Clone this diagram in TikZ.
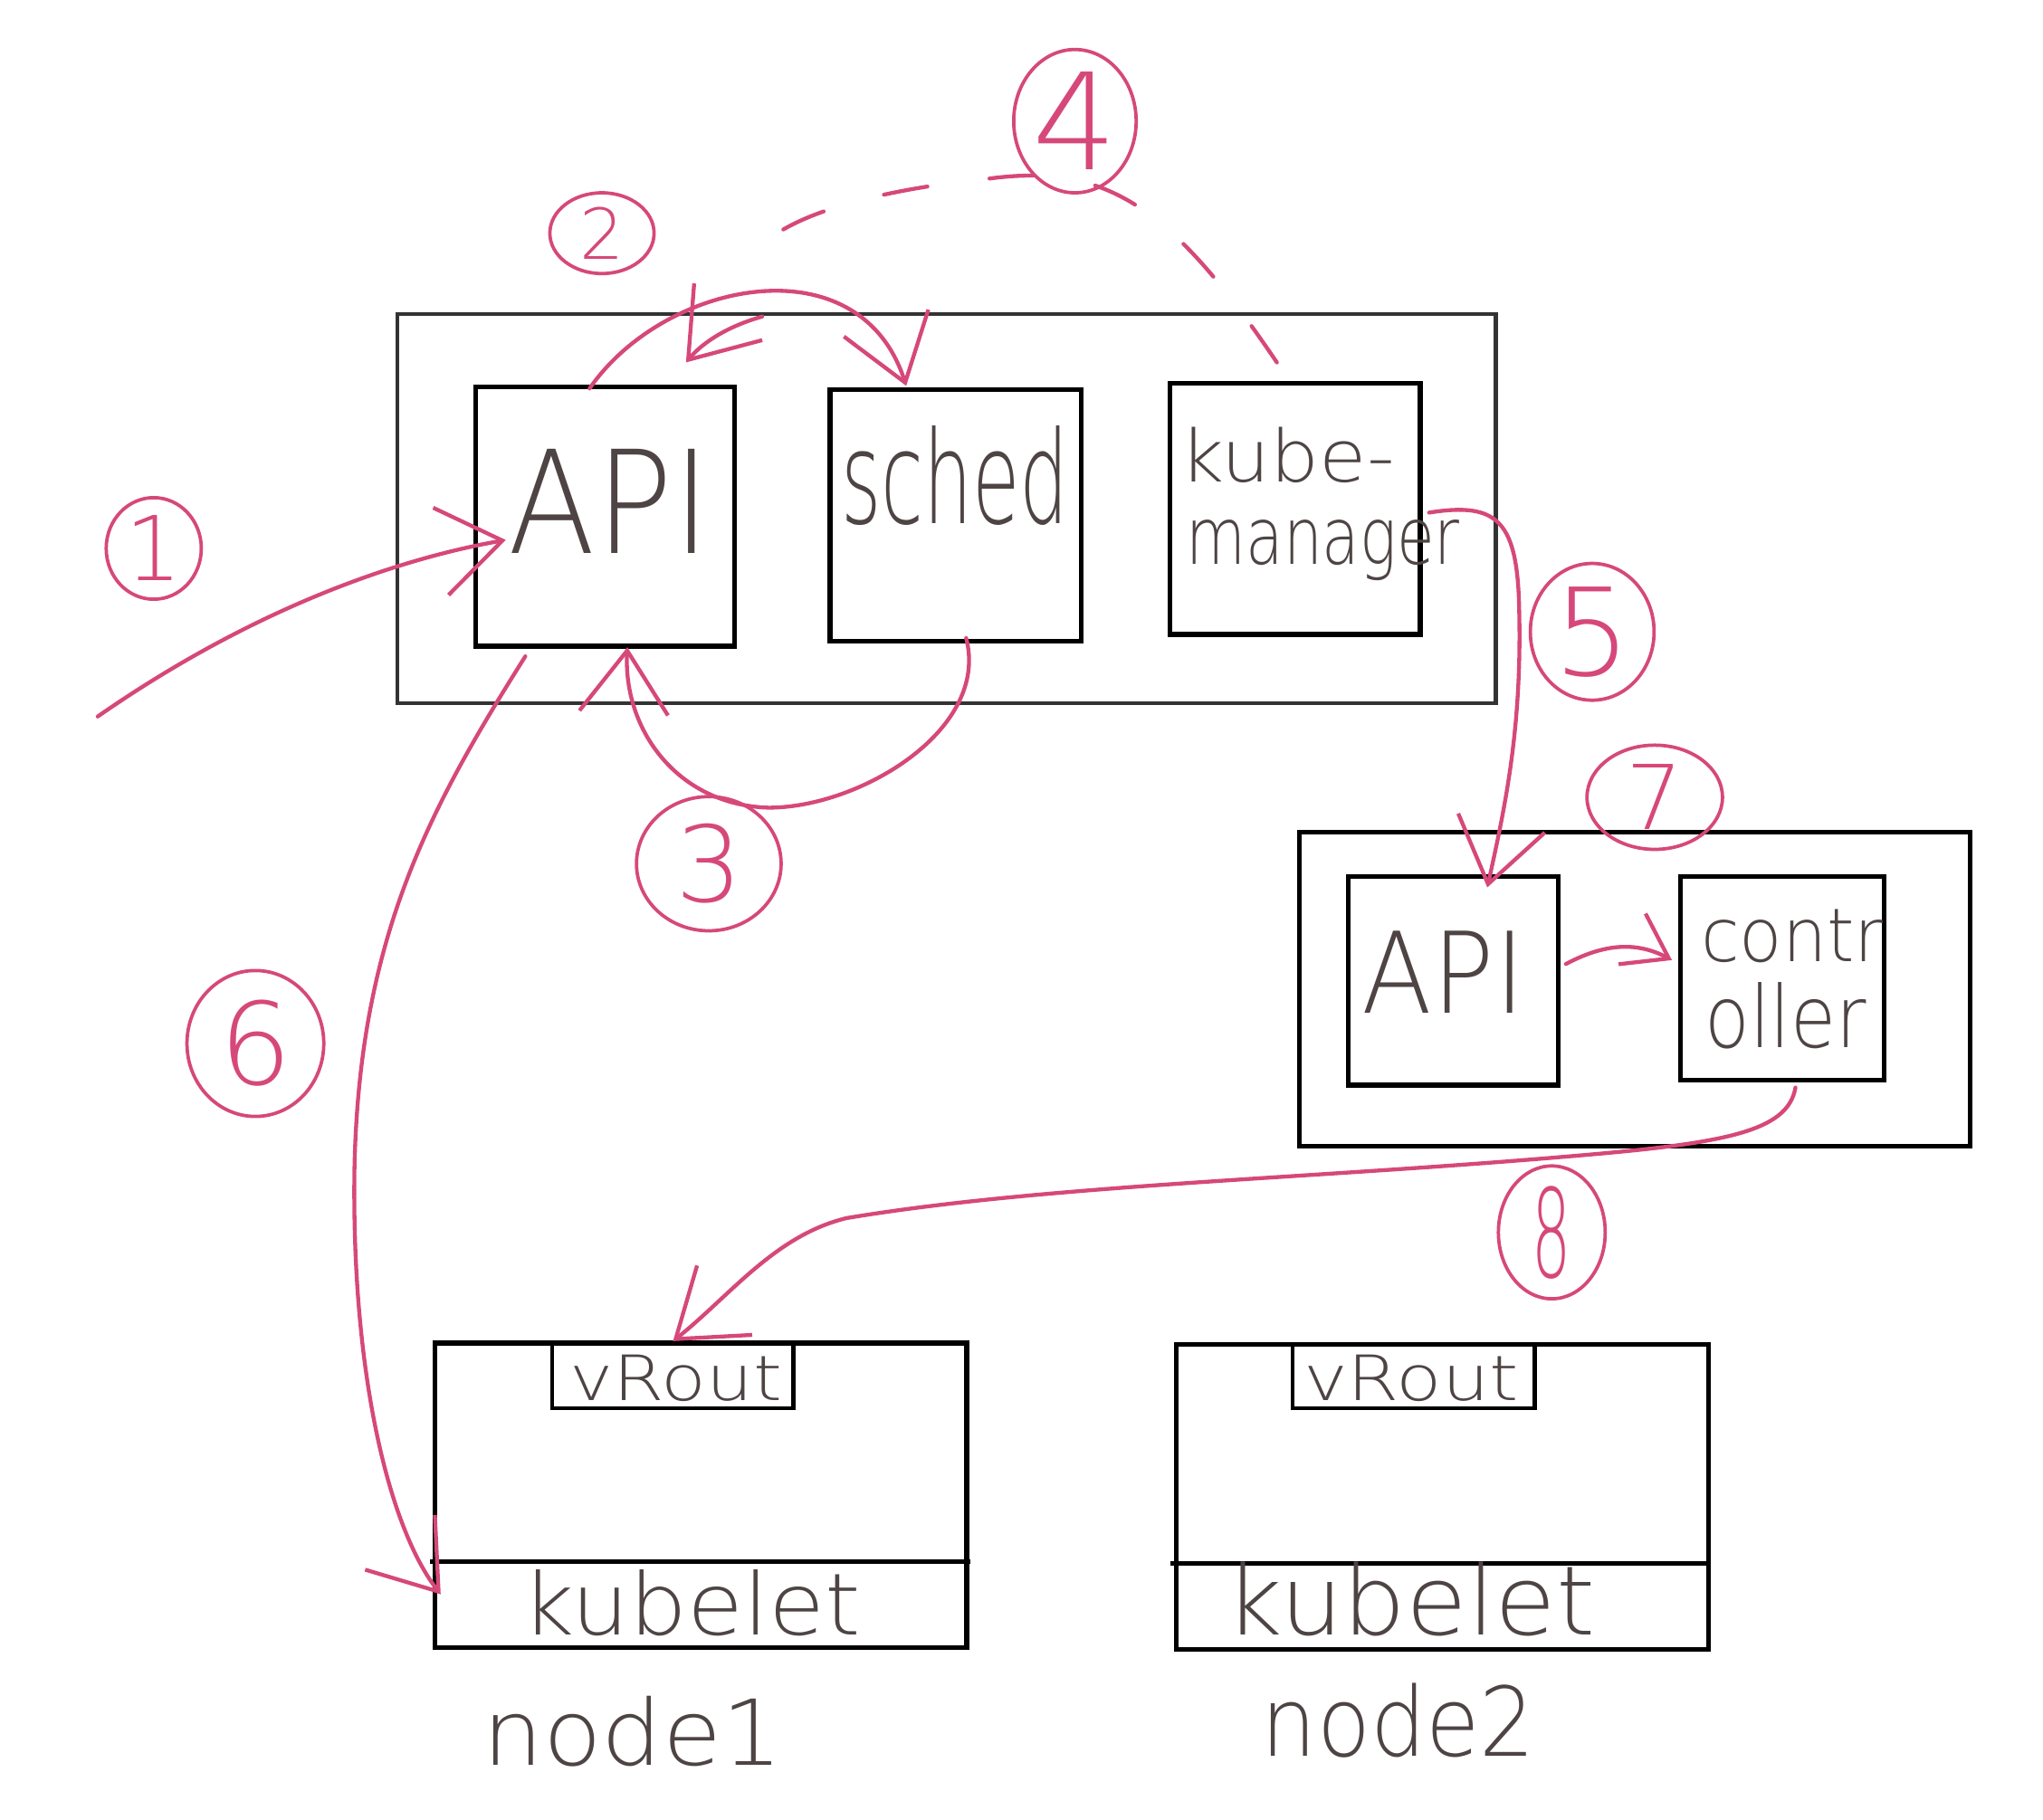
\documentclass[tikz,border=0pt]{standalone}
\usepackage{fontspec}
\usetikzlibrary{arrows.meta,shapes.geometric,calc,fit}
% a thin face for the handwritten labels, with fallbacks
\IfFontExistsTF{DejaVu Sans ExtraLight}{\newfontfamily\handfont{DejaVu Sans ExtraLight}}{%
  \IfFontExistsTF{Lato Light}{\newfontfamily\handfont{Lato Light}}{%
    \newfontfamily\handfont{DejaVu Sans}}}
\definecolor{ink}{RGB}{78,68,68}
\definecolor{pen}{RGB}{214,72,122}
% text stretched to a given width and height (pt, above the baseline)
\newcommand\fitt[3]{\resizebox{#1pt}{#2pt}{\handfont\fontsize{36}{36}\selectfont #3}}
\newcommand\fith[2]{\resizebox{!}{#1pt}{\handfont\fontsize{36}{36}\selectfont #2}}

\begin{document}
\begin{tikzpicture}[x=0.5pt,y=-0.5pt,
  box/.style={draw=black, line width=1.8pt, inner sep=0pt},
  plane/.style={draw=black!80, line width=1.5pt, inner sep=0pt},
  boxline/.style={draw=black, line width=1.8pt},
  txt/.style={text=ink, inner sep=0pt, anchor=base west},
  pen/.style={draw=pen, line width=1.5pt, line cap=round, line join=round},
  arr/.style={-{Straight Barb[length=24pt,width=34pt]}},
  arrsmall/.style={-{Straight Barb[length=16pt,width=22pt]}},
  num/.style={ellipse, draw=pen, line width=1.3pt, text=pen, inner sep=0pt},
]
\useasboundingbox (0,0) rectangle (1568,1397);

% control plane
\node[plane, fit={(305,241) (1148,540)}] (cp) {};
\node[box, fit={(365,297) (564,496)}] (api) {};
\node[box, fit={(637,299) (830,492)}] (sched) {};
\node[box, fit={(898,294) (1090,487)}] (kube) {};
\node[txt] (apit) at (390,425) {\fitt{77.5}{40}{API}};
\node[txt] (schedt) at (645,402) {\fitt{87.5}{37.5}{sched}};
\node[txt] (kubet) at (905,370) {\fitt{82.5}{21}{kube-}};
\node[txt] (mgrt) at (910,433) {\fitt{105}{17}{manager}};

% second cluster
\node[box, fit={(997,639) (1512,880)}] (cl2) {};
\node[box, fit={(1035,673) (1196,833)}] (api2) {};
\node[box, fit={(1290,673) (1446,829)}] (ctrl) {};
\node[txt] (api2t) at (1045,778) {\fitt{62.5}{31.5}{API}};
\node[txt] (ct1) at (1305,738) {\fitt{70}{20}{contr}};
\node[txt] (ct2) at (1308,804) {\fitt{62}{25}{oller}};

% worker nodes
\node[box, fit={(334,1031) (742,1265)}] (nd1) {};
\node[box, line width=1.5pt, fit={(424,1031) (609,1081)}] (vr1) {};
\coordinate (d1a) at (330,1199);
\coordinate (d1b) at (745,1199);
\draw[boxline] (d1a) -- (d1b);
\node[box, fit={(903,1032) (1311,1266)}] (nd2) {};
\node[box, line width=1.5pt, fit={(992,1032) (1178,1081)}] (vr2) {};
\coordinate (d2a) at (898,1200);
\coordinate (d2b) at (1313,1200);
\draw[boxline] (d2a) -- (d2b);
\node[txt] (vr1t) at (437,1075) {\fitt{81.5}{17.5}{vRout}};
\node[txt] (vr2t) at (1000,1075) {\fitt{82.5}{17.5}{vRout}};
\node[txt] (kb1t) at (400,1255) {\fitt{130}{25}{kubelet}};
\node[txt] (kb2t) at (940,1255) {\fitt{142}{28}{kubelet}};
\node[txt] (nm1) at (370,1355) {\fitt{115}{26.5}{node1}};
\node[txt] (nm2) at (968,1348) {\fitt{105}{28}{node2}};

% step numbers
\node[num, minimum width=36.5pt, minimum height=39pt] (c1) at (118,421) {\fith{25}{1}};
\node[num, minimum width=40pt, minimum height=31pt] (c2) at (462,179) {\fith{20}{2}};
\node[num, minimum width=55.5pt, minimum height=51.5pt] (c3) at (544,663) {\fith{30}{3}};
\node[num, minimum width=47pt, minimum height=55pt] (c4) at (825,93) {\fith{37.5}{4}};
\node[num, minimum width=47.5pt, minimum height=52.5pt] (c5) at (1222,485) {\fith{34}{5}};
\node[num, minimum width=52.5pt, minimum height=56pt] (c6) at (196,801) {\fith{32.5}{6}};
\node[num, minimum width=52pt, minimum height=40pt] (c7) at (1270,612) {\fith{25}{7}};
\node[num, minimum width=41pt, minimum height=51pt] (c8) at (1191,946) {\fitt{15}{35}{8}};

% 1: request into the API server
\coordinate (s1) at (75,550);
\draw[pen, arr] (s1) .. controls (190,470) and (300,430) .. ($(api.west)+(25,18)$);

% 2: API <-> scheduler
\draw[pen, arr] ($(api.north)+(-12,3)$) .. controls (510,215) and (660,185) .. ($(sched.north)+(-38,-1)$);
\coordinate (b2) at (585,243);
\draw[pen, arr] (b2) .. controls (560,250) and (540,262) .. ($(api.north)+(62,-17)$);

% 3: scheduler back to API
\draw[pen, arr] ($(sched.south)+(8,-4)$) .. controls (760,560) and (660,620) .. (590,620)
  .. controls (520,618) and (478,560) .. ($(api.south)+(17,-1)$);

% 4: kube-manager to scheduler (dashed)
\draw[pen, dash pattern=on 17pt off 24pt] ($(kube.north)+(-14,-14)$) .. controls (900,160) and (850,125) .. (760,137)
  .. controls (680,145) and (585,165) .. ($(sched.north)+(-163,-89)$);

% 5: kube-manager to the second API
\draw[pen, arr] ($(kube.east)+(5,3)$) .. controls (1150,385) and (1165,400) .. (1166,470)
  .. controls (1168,560) and (1155,620) .. ($(api2.north)+(26,10)$);

% 6: API to kubelet on node1
\draw[pen, arr] ($(api.south west)+(40,6)$) .. controls (330,620) and (275,720) .. (272,900)
  .. controls (270,1060) and (300,1175) .. ($(nd1.south west)+(6,-43)$);

% 7: API to controller
\draw[pen, arrsmall] ($(api2.east)+(4,-13)$) .. controls (1230,725) and (1255,722) .. ($(ctrl.west)+(-5,-14)$);

% 8: controller to vRout on node1
\draw[pen, arr] ($(ctrl.south)+(10,4)$) .. controls (1372,870) and (1320,878) .. (1200,888)
  .. controls (1000,905) and (800,910) .. (650,935)
  .. controls (595,948) and (560,995) .. (vr1.north);
\end{tikzpicture}
\end{document}
